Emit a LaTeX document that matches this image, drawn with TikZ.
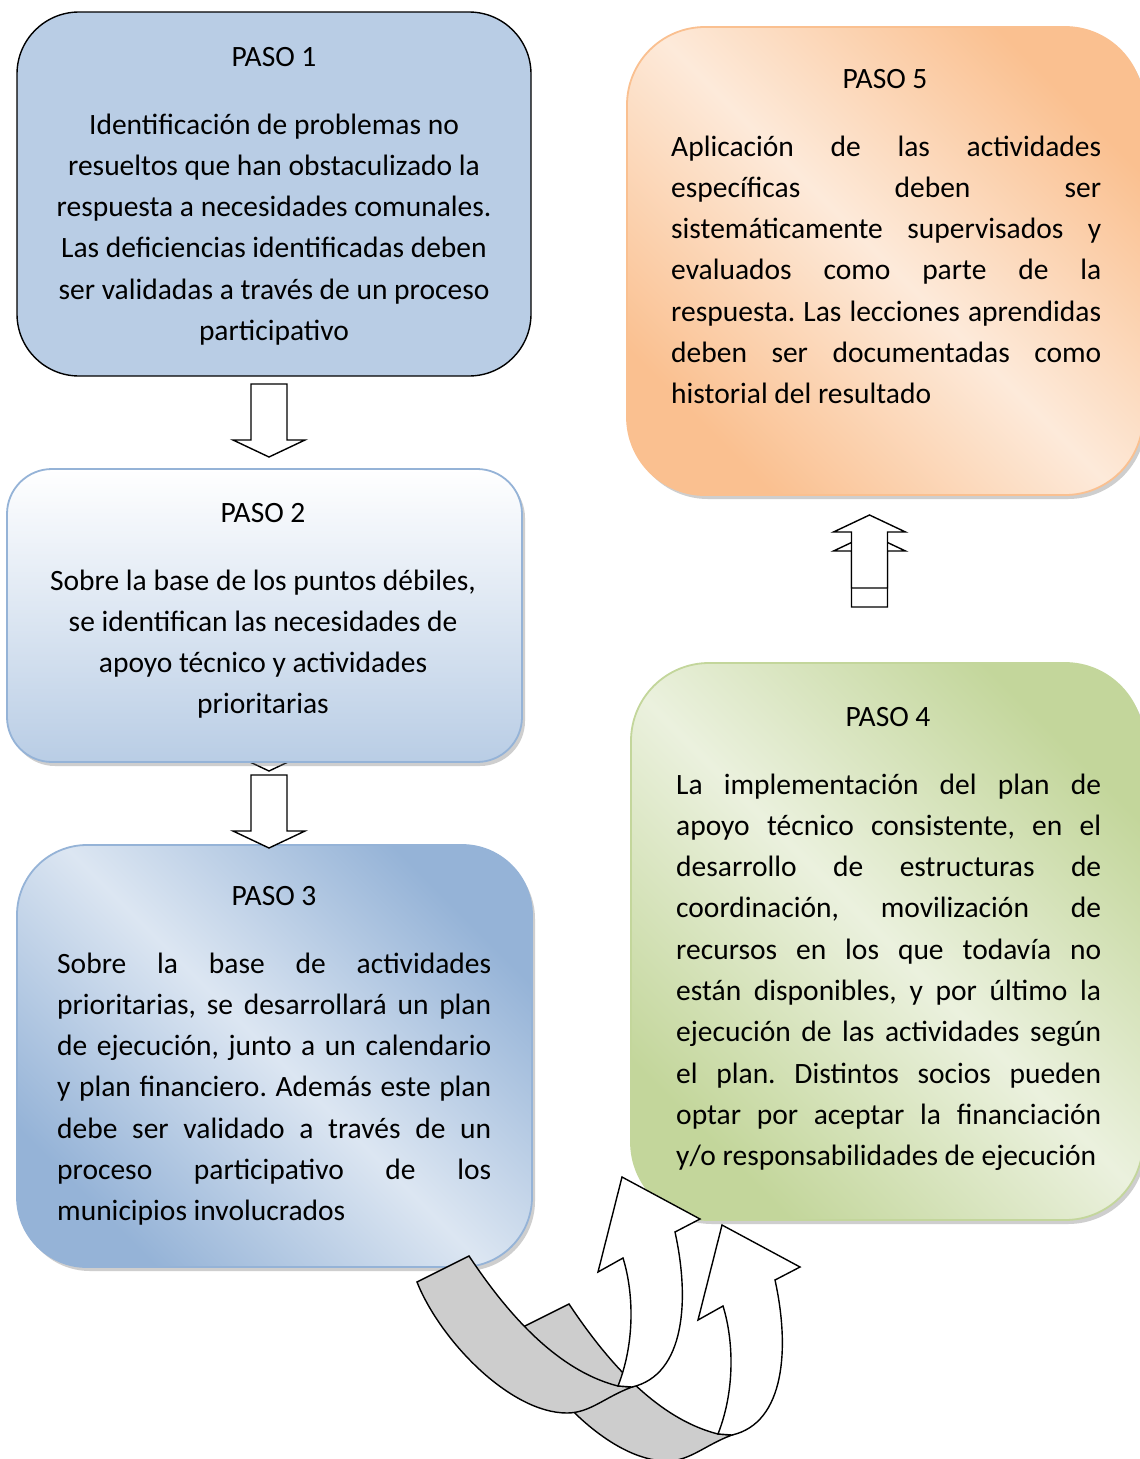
\documentclass[tikz,border=0pt]{standalone}
\usepackage{fontspec}
\setmainfont{Carlito}
\usetikzlibrary{shadows}
\definecolor{bluefill}{HTML}{B9CDE5}
\definecolor{bluedeep}{HTML}{95B3D7}
\definecolor{bluepale}{HTML}{DCE6F2}
\definecolor{greendeep}{HTML}{C3D69B}
\definecolor{greenpale}{HTML}{EBF1DE}
\definecolor{orangedeep}{HTML}{FAC090}
\definecolor{orangepale}{HTML}{FDEADA}
\definecolor{bandgrey}{HTML}{CDCDCD}

% one justified line, stretched to the current column width \jw
\newcommand\jl[1]{\makebox[\jw][s]{#1}}
\frenchspacing

\begin{document}
\begin{tikzpicture}[x=1pt, y=-1pt, font=\fontsize{29.5}{35}\selectfont]
  % --- constants -----------------------------------------------------------
  \def\lh{41.3}   % line pitch of the body text

  \tikzset{
    hardbox/.style={draw=black, line width=1.4pt, fill=bluefill,
      rounded corners=62pt, inner sep=0pt},
    softbox/.style={line width=1.8pt, inner sep=0pt,
      drop shadow={shadow xshift=3pt, shadow yshift=-4pt,
        opacity=0.35, fill=black!55}},
    diagshade/.style 2 args={draw=#1, top color=#1, bottom color=#1,
      middle color=#2, shading angle=-45},
    steptitle/.style={anchor=base, inner sep=0pt},
    txtc/.style={anchor=base, inner sep=0pt},
    txtl/.style={anchor=base west, inner sep=0pt},
    arrowline/.style={draw=black, line width=1.4pt, fill=white, line join=miter},
    bandline/.style={draw=black, line width=1.4pt, line join=miter},
    blockarrow/.pic={
      \path[arrowline] (0,0) -- (-36,-17) -- (-18,-17) -- (-18,-73)
        -- (18,-73) -- (18,-17) -- (36,-17) -- cycle;},
    curvearrow/.pic={
      \path[bandline, fill=bandgrey] (-205,105) -- (-153,79)
        .. controls (-117,133) and (-67,193) .. (-4,209) -- (10,210)
        .. controls (-17,220) and (-32,236) .. (-55,236)
        .. controls (-112,236) and (-182,163) .. (-205,105) -- cycle;
      \path[bandline, fill=white] (-4,209)
        .. controls (14,163) and (11,113) .. (1,81) -- (-24,95) -- (0,0)
        -- (78,42) -- (53,55)
        .. controls (68,123) and (63,198) .. (10,210) -- cycle;}}

  \useasboundingbox (0,0) rectangle (1140,1459);
  \fill[white] (0,0) rectangle (1140,1459);
  \clip (0,0) rectangle (1140,1459);

  % ---- arrow hidden behind step 2 ------------------------------------------
  \pic (hid) at (269,771) {blockarrow};

  % ---- 1. the five boxes ----------------------------------------------------
  \node[hardbox, minimum width=514pt, minimum height=364pt] (p1) at (274,194) {};
  \node[softbox, draw=bluedeep, top color=white, bottom color=bluefill,
    rounded corners=45pt, minimum width=515pt, minimum height=293pt]
    (p2) at (264.5,615.5) {};
  \node[softbox, diagshade={bluedeep}{bluepale}, rounded corners=70pt,
    minimum width=515pt, minimum height=422pt] (p3) at (274.5,1056) {};
  \node[softbox, diagshade={greendeep}{greenpale}, rounded corners=78pt,
    minimum width=512pt, minimum height=557pt] (p4) at (887,941.5) {};
  \node[softbox, diagshade={orangedeep}{orangepale}, rounded corners=78pt,
    minimum width=516pt, minimum height=468pt] (p5) at (885,261) {};

  % ---- 2. titles -------------------------------------------------------------
  \node[steptitle] (t1) at (274,66)  {PASO 1};
  \node[steptitle] (t2) at (263,522) {PASO 2};
  \node[steptitle] (t3) at (274,905) {PASO 3};
  \node[steptitle] (t4) at (888,726) {PASO 4};
  \node[steptitle] (t5) at (885,88)  {PASO 5};

  % ---- 3. body text, one node per printed line -----------------------------
  \foreach \t [count=\i from 0] in {{Identificación de problemas no},
      {resueltos que han obstaculizado la},
      {respuesta a necesidades comunales.},
      {Las deficiencias identificadas deben},
      {ser validadas a través de un proceso},
      {participativo}}
    \node[txtc] (b1l\i) at (274,134+\lh*\i) {\t};

  \foreach \t [count=\i from 0] in {{Sobre la base de los puntos débiles,},
      {se identifican las necesidades de},
      {apoyo técnico y actividades},
      {prioritarias}}
    \node[txtc] (b2l\i) at (263,590+\lh*\i) {\t};

  \def\jw{434pt}
  \foreach \t [count=\i from 0] in {{\jl{Sobre la base de actividades}},
      {\jl{prioritarias, se desarrollará un plan}},
      {\jl{de ejecución, junto a un calendario}},
      {\jl{y plan financiero. Además este plan}},
      {\jl{debe ser validado a través de un}},
      {\jl{proceso participativo de los}},
      {municipios involucrados}}
    \node[txtl] (b3l\i) at (57,973+\lh*\i) {\t};

  \def\jw{425pt}
  \foreach \t [count=\i from 0] in {{\jl{La implementación del plan de}},
      {\jl{apoyo técnico consistente, en el}},
      {\jl{desarrollo de estructuras de}},
      {\jl{coordinación, movilización de}},
      {\jl{recursos en los que todavía no}},
      {\jl{están disponibles, y por último la}},
      {\jl{ejecución de las actividades según}},
      {\jl{el plan. Distintos socios pueden}},
      {\jl{optar por aceptar la financiación}},
      {y/o responsabilidades de ejecución}}
    \node[txtl] (b4l\i) at (676,794+\lh*\i) {\t};

  \def\jw{430pt}
  \foreach \t [count=\i from 0] in {{\jl{Aplicación de las actividades}},
      {\jl{específicas deben ser}},
      {\jl{sistemáticamente supervisados y}},
      {\jl{evaluados como parte de la}},
      {\jl{respuesta. Las lecciones aprendidas}},
      {\jl{deben ser documentadas como}},
      {historial del resultado}}
    \node[txtl] (b5l\i) at (671,156+\lh*\i) {\t};

  % ---- 4. block arrows between the steps ------------------------------------
  \pic (a12) at (269,457) {blockarrow};
  \pic (a23) at (269,848) {blockarrow};
  \pic[rotate=180] (a45b) at (869.5,534) {blockarrow};
  \pic[rotate=180] (a45a) at (869.5,515) {blockarrow};

  % ---- 5. the two curved arrows from step 3 to step 4 -----------------------
  \pic (c2) at (722,1225) {curvearrow};
  \pic (c1) at (622,1177) {curvearrow};
\end{tikzpicture}
\end{document}
